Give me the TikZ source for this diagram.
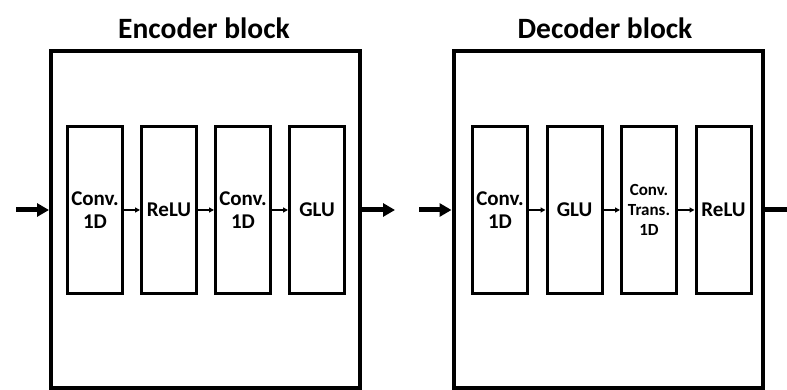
\documentclass[tikz,border=0pt]{standalone}
\usepackage{fontspec}
\setmainfont{Carlito}
\usetikzlibrary{arrows.meta}

\tikzset{
	layer/.style={draw, line width=3pt, minimum width=55pt, minimum height=167pt, inner sep=0pt, align=center, font=\bfseries\fontsize{21}{23.5}\selectfont},
	block/.style={draw, line width=4pt, minimum width=309pt, minimum height=337pt},
	title/.style={font=\bfseries\fontsize{29.5}{34}\selectfont},
	link/.style={-{Triangle[length=5pt,width=5pt]}, line width=1.5pt},
	flow/.style={-{Triangle[length=12pt,width=13pt]}, line width=5pt},
}

\begin{document}
\begin{tikzpicture}[x=1pt,y=1pt]
\useasboundingbox (0,0) rectangle (787,390);

% outer blocks
\node[block] (enc) at (205.5,170.5) {};
\node[block] (dec) at (608,170.5) {};
\node[title] (enctitle) at (204,362) {Encoder block};
\node[title] (dectitle) at (605,362) {Decoder block};

% encoder layers
\node[layer] (e1) at (95,180) {Conv.\\1D};
\node[layer] (e2) at (169,180) {ReLU};
\node[layer] (e3) at (243,180) {Conv.\\1D};
\node[layer] (e4) at (317,180) {GLU};

% decoder layers
\node[layer] (d1) at (500,180) {Conv.\\1D};
\node[layer] (d2) at (574.5,180) {GLU};
\node[layer, font=\bfseries\fontsize{17}{20}\selectfont] (d3) at (649,180) {Conv.\\Trans.\\1D};
\node[layer] (d4) at (723.5,180) {ReLU};

\coordinate (ein) at (16,180);
\coordinate (eout) at (395,180);
\coordinate (din) at (419,180);
\coordinate (dout) at (800,180);

\path[link]
(e1) edge (e2)
(e2) edge (e3)
(e3) edge (e4)
(d1) edge (d2)
(d2) edge (d3)
(d3) edge (d4)
;
\draw[flow] (ein) -- (ein -| enc.west);
\draw[flow] (enc.east |- eout) -- (eout);
\draw[flow] (din) -- (din -| dec.west);
\draw[flow] (dec.east |- dout) -- (dout);
\end{tikzpicture}
\end{document}
